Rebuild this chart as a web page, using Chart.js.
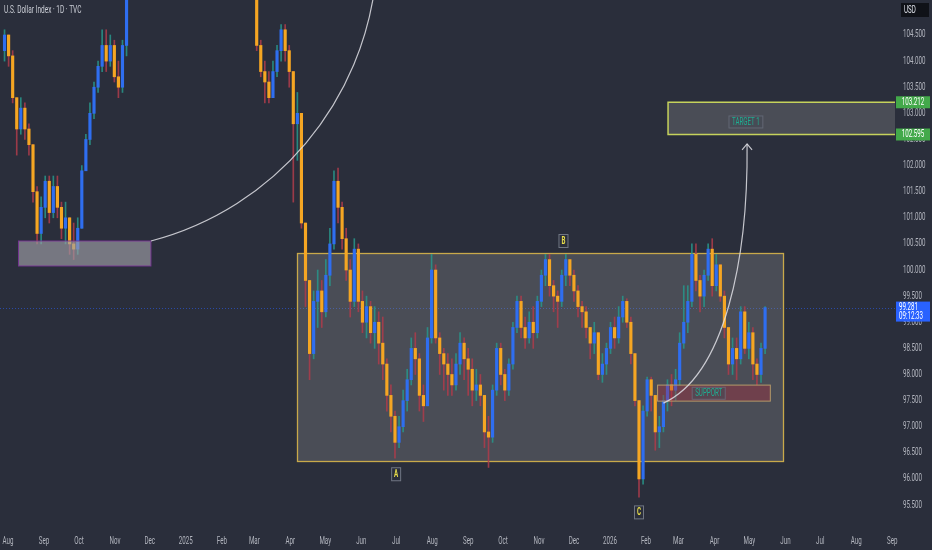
<!DOCTYPE html>
<html>
<head>
<meta charset="utf-8">
<script src="https://cdn.jsdelivr.net/npm/chart.js@4.4.1/dist/chart.umd.min.js"></script>
<style>
  html, body { margin: 0; padding: 0; background: #2a2e3b; }
  #wrap { width: 932px; height: 550px; }
</style>
</head>
<body>
<div id="wrap"><canvas id="dxyChart" width="932" height="550"></canvas></div>
<script>
// U.S. Dollar Index, daily chart (two candles per week)

const startDate = '2024-07-29';   // first candle
const stepDays = 3.5;             // one candle per half week
const firstOpen = 104.2;

const closes = [
    104.5, 104.1, 103.3, 102.7, 103.1, 102.7, 102.4, 101.5, 100.7, 101.2,
    101.7, 101.1, 101.6, 101.2, 100.8, 101.0, 100.5, 100.4, 100.8, 101.9,
    102.5, 103.0, 103.5, 103.9, 104.3, 104.0, 104.3, 103.7, 103.5, 104.3,
    105.5, 106.0, 106.6, 106.7, 107.0, 107.4, 106.5, 105.8, 106.3, 106.0,
    106.6, 106.9, 107.8, 107.9, 108.1, 108.0, 108.9, 108.7, 109.2, 109.6,
    109.0, 108.3, 107.8, 108.0, 108.4, 108.0, 107.9, 107.4, 106.8, 106.7,
    107.3, 107.5, 104.3, 103.8, 103.6, 103.3, 103.8, 104.2, 104.6, 104.2,
    103.8, 102.8, 103.0, 100.9, 99.8, 98.4, 99.4, 99.6, 99.2, 99.9,
    100.5, 101.7, 101.2, 100.6, 100.0, 99.4, 100.4, 99.4, 99.0, 99.3,
    98.8, 99.0, 98.6, 98.2, 97.6, 97.2, 96.7, 97.0, 97.5, 97.9,
    98.5, 98.3, 97.6, 97.4, 98.7, 100.0, 98.7, 98.4, 98.2, 98.0,
    97.8, 98.2, 98.6, 98.3, 98.1, 97.7, 97.8, 97.6, 96.9, 96.8,
    97.7, 98.5, 98.0, 97.7, 98.2, 98.9, 99.4, 98.9, 98.7, 99.0,
    98.8, 99.4, 99.9, 100.2, 99.7, 99.5, 99.4, 99.9, 100.2, 99.9,
    99.6, 99.3, 99.2, 98.9, 98.6, 98.8, 98.0, 98.2, 98.5, 98.9,
    98.7, 99.1, 99.4, 99.0, 98.4, 97.5, 96.0, 97.3, 97.9, 97.6,
    96.9, 97.0, 97.5, 97.8, 97.7, 97.9, 98.6, 99.0, 99.4, 100.3,
    99.8, 99.5, 99.9, 100.4, 99.7, 100.1, 99.5, 98.9, 98.2, 98.5,
    98.3, 99.2, 98.5, 98.8, 98.2, 98.0, 98.5, 99.28
];

const highs = [
    104.6, 104.5, 104.2, 103.3, 103.3, 103.2, 102.8, 102.4, 101.6, 101.4,
    101.8, 101.8, 101.8, 101.8, 101.3, 101.3, 101.0, 100.9, 101.0, 102.0,
    102.6, 103.2, 103.6, 104.0, 104.6, 104.6, 104.5, 104.4, 104.0, 104.4,
    105.8, 106.4, 106.9, 107.1, 107.3, 108.0, 107.5, 106.6, 106.5, 106.5,
    106.8, 107.1, 108.2, 108.3, 108.5, 108.3, 109.1, 109.2, 109.5, 110.2,
    109.7, 109.1, 108.5, 108.2, 109.0, 108.5, 108.3, 108.0, 107.5, 107.1,
    107.4, 107.7, 107.6, 104.4, 104.0, 103.8, 104.0, 104.3, 104.7, 104.7,
    104.3, 103.8, 103.4, 103.0, 100.9, 99.8, 99.6, 100.0, 99.8, 100.2,
    100.8, 101.9, 101.95, 101.3, 100.8, 100.2, 100.6, 100.5, 99.6, 99.5,
    99.4, 99.3, 99.2, 99.1, 98.3, 97.8, 97.3, 97.2, 97.7, 98.1,
    98.7, 98.8, 98.4, 97.8, 98.9, 100.3, 100.1, 98.8, 98.5, 98.4,
    98.3, 98.4, 98.8, 98.7, 98.5, 98.3, 98.1, 98.0, 97.6, 97.2,
    97.8, 98.6, 98.6, 98.1, 98.3, 99.0, 99.5, 99.5, 99.1, 99.2,
    99.3, 99.5, 100.0, 100.3, 100.3, 99.8, 99.6, 100.0, 100.3, 100.2,
    100.0, 99.7, 99.4, 99.3, 98.9, 99.0, 98.8, 98.4, 98.6, 99.0,
    99.1, 99.3, 99.5, 99.45, 99.1, 98.4, 97.5, 97.4, 97.95, 97.95,
    97.6, 97.2, 97.6, 97.9, 98.0, 98.1, 98.8, 99.7, 99.7, 100.5,
    100.5, 99.9, 100.0, 100.5, 100.6, 100.3, 100.1, 99.6, 98.9, 98.7,
    98.7, 99.3, 99.3, 99.0, 98.9, 98.3, 98.6, 99.3
];

const lows = [
    104.0, 103.9, 103.2, 102.2, 102.6, 102.5, 102.2, 101.3, 100.5, 100.5,
    101.0, 100.9, 101.0, 101.0, 100.6, 100.5, 100.3, 100.2, 100.3, 100.8,
    101.9, 102.4, 102.9, 103.4, 103.8, 103.8, 103.9, 103.6, 103.3, 103.4,
    104.1, 105.4, 105.9, 106.3, 106.5, 106.9, 106.3, 105.6, 105.7, 105.8,
    105.9, 106.4, 106.8, 107.5, 107.7, 107.7, 107.9, 108.4, 108.6, 109.1,
    108.8, 107.8, 107.6, 107.5, 107.9, 107.8, 107.6, 107.2, 106.6, 106.3,
    106.5, 107.0, 104.2, 103.7, 103.2, 103.2, 103.3, 103.7, 104.0, 104.0,
    103.5, 101.3, 102.1, 100.8, 99.3, 97.9, 98.3, 98.9, 98.9, 99.1,
    99.7, 100.4, 100.9, 100.4, 99.8, 99.1, 99.3, 99.2, 98.8, 98.7,
    98.6, 98.5, 98.2, 97.9, 97.3, 96.9, 96.4, 96.6, 96.9, 97.3,
    97.8, 98.0, 97.3, 97.1, 97.4, 98.6, 98.6, 98.0, 97.7, 97.6,
    97.6, 97.7, 98.0, 97.9, 97.6, 97.4, 97.5, 97.4, 96.6, 96.22,
    96.7, 97.6, 97.8, 97.5, 97.6, 98.1, 98.8, 98.7, 98.5, 98.6,
    98.5, 98.7, 99.3, 99.7, 99.5, 99.2, 98.9, 99.3, 99.7, 99.7,
    99.4, 99.1, 98.9, 98.7, 98.3, 98.4, 97.9, 97.85, 98.0, 98.4,
    98.5, 98.6, 99.0, 98.9, 98.2, 97.4, 95.65, 95.9, 97.2, 97.3,
    96.55, 96.6, 96.9, 97.3, 97.4, 97.5, 97.8, 98.5, 98.8, 99.3,
    99.6, 99.2, 99.3, 99.8, 99.5, 99.6, 99.4, 98.7, 98.0, 98.0,
    97.9, 98.2, 98.4, 98.3, 97.9, 97.8, 97.85, 98.4
];

const monthTicks = [
    '2024-08-01', '2024-09-01', '2024-10-01', '2024-11-01', '2024-12-01', '2025-01-01',
    '2025-02-01', '2025-03-01', '2025-04-01', '2025-05-01', '2025-06-01', '2025-07-01',
    '2025-08-01', '2025-09-01', '2025-10-01', '2025-11-01', '2025-12-01', '2026-01-01',
    '2026-02-01', '2026-03-01', '2026-04-01', '2026-05-01', '2026-06-01', '2026-07-01',
    '2026-08-01', '2026-09-01'
];
const monthLabels = [
    'Aug', 'Sep', 'Oct', 'Nov', 'Dec', '2025', 'Feb', 'Mar', 'Apr', 'May', 'Jun', 'Jul',
    'Aug', 'Sep', 'Oct', 'Nov', 'Dec', '2026', 'Feb', 'Mar', 'Apr', 'May', 'Jun', 'Jul',
    'Aug', 'Sep'
];
const priceTicks = [95.5, 96, 96.5, 97, 97.5, 98, 98.5, 99, 99.5, 100,
                    100.5, 101, 101.5, 102, 102.5, 103, 103.5, 104, 104.5];

const lastPrice = 99.281;
const countdown = '09:12:33';
const targetTop = 103.212;
const targetBottom = 102.595;

// ---------------------------------------------------------------

const DAY0 = Date.UTC(2024, 7, 1);
const dayOf = s => (Date.parse(s + 'T00:00:00Z') - DAY0) / 864e5;

const UP = '#2f6ef0';
const DOWN = '#f5a623';
const UP_WICK = 'rgba(40,150,140,0.85)';
const DOWN_WICK = 'rgba(175,60,75,0.85)';
const SQUEEZE = 0.62;

const opens = closes.map((c, i) => i === 0 ? firstOpen : closes[i - 1]);
const candleDays = closes.map((c, i) => dayOf(startDate) + i * stepDays);

const wickData = candleDays.map((d, i) => ({ x: d, y: [lows[i], highs[i]] }));
const bodyData = candleDays.map((d, i) => ({ x: d, y: [opens[i], closes[i]] }));
const bodyColors = closes.map((c, i) => c >= opens[i] ? UP : DOWN);
const wickColors = closes.map((c, i) => c >= opens[i] ? UP_WICK : DOWN_WICK);

function squeezeText(ctx, str, x, y, size, color, align, weight) {
    ctx.save();
    ctx.font = (weight || 'normal') + ' ' + size + 'px Roboto, sans-serif';
    ctx.fillStyle = color;
    ctx.textBaseline = 'middle';
    ctx.textAlign = align || 'left';
    ctx.translate(x, y);
    ctx.scale(SQUEEZE, 1);
    ctx.fillText(str, 0, 0);
    ctx.restore();
}

// drawings on top of the price chart, placed in date / price units
const drawings = {
    rangeBox: { from: '2025-04-07', to: '2026-05-30', top: 100.326, bottom: 96.34 },
    leftBox: { from: '2024-08-10', to: '2024-12-02', top: 100.556, bottom: 100.077 },
    supportBox: { from: '2026-02-11', to: '2026-05-19', top: 97.797, bottom: 97.49 },
    targetFrom: '2026-02-20',
    bigArc: [['2024-12-02', 100.556], ['2025-03-19', 101.18], ['2025-06-04', 103.22], ['2025-06-14', 105.68]],
    arrow: [['2026-02-16', 97.452], ['2026-04-10', 97.989], ['2026-04-30', 100.23], ['2026-04-29', 102.414]],
    points: [['A', '2025-07-01', 96.09], ['B', '2025-11-22', 100.556], ['C', '2026-01-26', 95.36]],
    supportLabel: ['SUPPORT', '2026-03-27', 97.64],
    targetLabel: ['TARGET 1', '2026-04-28', 102.835]
};

const overlayPlugin = {
    id: 'overlays',
    beforeDatasetsDraw(chart) {
        const { ctx, chartArea, scales: { x, y } } = chart;
        const px = s => x.getPixelForValue(dayOf(s));
        const b = drawings.rangeBox;
        ctx.save();
        // current price line
        ctx.strokeStyle = 'rgba(41,98,255,0.55)';
        ctx.setLineDash([1, 2]);
        ctx.lineWidth = 1;
        const ly = Math.round(y.getPixelForValue(lastPrice)) + 0.5;
        ctx.beginPath();
        ctx.moveTo(chartArea.left, ly);
        ctx.lineTo(chartArea.right, ly);
        ctx.stroke();
        ctx.setLineDash([]);
        // trading range
        const x1 = px(b.from), x2 = px(b.to);
        const y1 = y.getPixelForValue(b.top), y2 = y.getPixelForValue(b.bottom);
        ctx.fillStyle = 'rgba(150,150,150,0.3)';
        ctx.fillRect(x1, y1, x2 - x1, y2 - y1);
        ctx.strokeStyle = '#c8a94a';
        ctx.lineWidth = 1.3;
        ctx.strokeRect(Math.round(x1) + 0.5, Math.round(y1) + 0.5, Math.round(x2 - x1), Math.round(y2 - y1));
        ctx.restore();
    },
    afterDatasetsDraw(chart) {
        const { ctx, chartArea, scales: { x, y } } = chart;
        const px = s => x.getPixelForValue(dayOf(s));
        const py = v => y.getPixelForValue(v);
        ctx.save();
        ctx.beginPath();
        ctx.rect(chartArea.left, chartArea.top, chartArea.right - chartArea.left, chartArea.bottom - chartArea.top);
        ctx.clip();

        // left grey zone
        let b = drawings.leftBox;
        ctx.fillStyle = 'rgba(158,158,166,0.66)';
        ctx.fillRect(px(b.from), py(b.top), px(b.to) - px(b.from), py(b.bottom) - py(b.top));
        ctx.strokeStyle = 'rgba(120,50,150,0.9)';
        ctx.lineWidth = 1;
        ctx.strokeRect(px(b.from), py(b.top), px(b.to) - px(b.from), py(b.bottom) - py(b.top));

        // target zone
        const tx = px(drawings.targetFrom);
        ctx.fillStyle = 'rgba(150,150,150,0.3)';
        ctx.fillRect(tx, py(targetTop), chartArea.right - tx, py(targetBottom) - py(targetTop));
        ctx.strokeStyle = '#c6d35c';
        ctx.lineWidth = 1.5;
        ctx.beginPath();
        ctx.moveTo(chartArea.right, py(targetTop));
        ctx.lineTo(tx, py(targetTop));
        ctx.lineTo(tx, py(targetBottom));
        ctx.lineTo(chartArea.right, py(targetBottom));
        ctx.stroke();

        // support zone
        b = drawings.supportBox;
        ctx.fillStyle = 'rgba(180,40,60,0.35)';
        ctx.fillRect(px(b.from), py(b.top), px(b.to) - px(b.from), py(b.bottom) - py(b.top));
        ctx.strokeStyle = '#b59a6a';
        ctx.lineWidth = 1;
        ctx.strokeRect(px(b.from), py(b.top), px(b.to) - px(b.from), py(b.bottom) - py(b.top));

        // curves
        ctx.strokeStyle = 'rgba(225,225,230,0.85)';
        ctx.lineWidth = 1.2;
        [drawings.bigArc, drawings.arrow].forEach(pts => {
            const p = pts.map(([d, v]) => [px(d), py(v)]);
            ctx.beginPath();
            ctx.moveTo(p[0][0], p[0][1]);
            ctx.bezierCurveTo(p[1][0], p[1][1], p[2][0], p[2][1], p[3][0], p[3][1]);
            ctx.stroke();
        });
        const tip = drawings.arrow[3];
        const tpx = px(tip[0]), tpy = py(tip[1]);
        ctx.beginPath();
        ctx.moveTo(tpx - 5, tpy + 6);
        ctx.lineTo(tpx, tpy);
        ctx.lineTo(tpx + 5, tpy + 6);
        ctx.stroke();

        // A / B / C markers
        drawings.points.forEach(([t, d, v]) => {
            const cx = px(d), cy = py(v);
            ctx.fillStyle = '#2a2e3b';
            ctx.fillRect(cx - 4.5, cy - 6.5, 9, 13);
            ctx.strokeStyle = 'rgba(120,126,140,0.9)';
            ctx.lineWidth = 1;
            ctx.strokeRect(cx - 4.5, cy - 6.5, 9, 13);
            squeezeText(ctx, t, cx, cy + 0.5, 10, '#e9de4a', 'center', 'bold');
        });

        // text labels on the zones
        [drawings.supportLabel, drawings.targetLabel].forEach(([t, d, v]) => {
            const cx = px(d), cy = py(v);
            ctx.font = '10px Roboto, sans-serif';
            const w = ctx.measureText(t).width * SQUEEZE + 6;
            ctx.fillStyle = 'rgba(70,74,86,0.55)';
            ctx.fillRect(cx - w / 2, cy - 6, w, 12);
            ctx.strokeStyle = 'rgba(110,116,130,0.7)';
            ctx.strokeRect(cx - w / 2, cy - 6, w, 12);
            squeezeText(ctx, t, cx, cy + 0.5, 10, '#1fae92', 'center');
        });
        ctx.restore();
    },
    afterDraw(chart) {
        const { ctx, chartArea, scales: { x, y } } = chart;
        // axis labels
        x.ticks.forEach((t, i) => {
            squeezeText(ctx, monthLabels[i], x.getPixelForValue(t.value), 541, 10, '#b2b5be', 'center');
        });
        y.ticks.forEach(t => {
            squeezeText(ctx, t.value.toFixed(3), chartArea.right + 8, y.getPixelForValue(t.value), 10, '#b2b5be', 'left');
        });
        // price tags
        [targetTop, targetBottom].forEach(v => {
            const cy = y.getPixelForValue(v);
            ctx.fillStyle = '#43a94a';
            ctx.fillRect(chartArea.right + 1, cy - 6, 34, 12);
            squeezeText(ctx, v.toFixed(3), chartArea.right + 18, cy + 0.5, 10, '#ffffff', 'center');
        });
        const ly = y.getPixelForValue(lastPrice);
        ctx.fillStyle = '#2962ff';
        ctx.fillRect(chartArea.right + 1, ly - 6, 34, 20);
        squeezeText(ctx, lastPrice.toFixed(3), chartArea.right + 4, ly, 10, '#ffffff', 'left');
        squeezeText(ctx, countdown, chartArea.right + 4, ly + 9, 10, '#ffffff', 'left');
        // title and currency box
        squeezeText(ctx, 'U.S. Dollar Index · 1D · TVC', 4, 10, 10.5, '#c9ccd4', 'left');
        ctx.fillStyle = '#101218';
        ctx.fillRect(901, 3, 28, 14);
        squeezeText(ctx, 'USD', 904, 10.5, 10, '#e0e3eb', 'left');
    }
};

new Chart(document.getElementById('dxyChart'), {
    type: 'bar',
    data: {
        datasets: [{
            label: 'Wicks',
            data: wickData,
            backgroundColor: wickColors,
            barThickness: 1,
            grouped: false,
            order: 2
        }, {
            label: 'Candles',
            data: bodyData,
            backgroundColor: bodyColors,
            barThickness: 2.5,
            grouped: false,
            order: 1
        }]
    },
    options: {
        responsive: false,
        animation: false,
        events: [],
        layout: { padding: 0 },
        plugins: {
            legend: { display: false },
            tooltip: { enabled: false }
        },
        scales: {
            x: {
                type: 'linear',
                min: -6.9,
                max: 763.3,
                offset: false,
                grid: { display: false },
                border: { display: false },
                ticks: { display: false },
                afterBuildTicks: axis => {
                    axis.ticks = monthTicks.map(s => ({ value: dayOf(s) }));
                },
                afterFit: axis => { axis.height = 23; }
            },
            y: {
                position: 'right',
                min: 95.08,
                max: 105.17,
                grid: { display: false },
                border: { display: false },
                ticks: { display: false },
                afterBuildTicks: axis => {
                    axis.ticks = priceTicks.map(v => ({ value: v }));
                },
                afterFit: axis => { axis.width = 37; }
            }
        }
    },
    plugins: [overlayPlugin]
});
</script>
</body>
</html>
